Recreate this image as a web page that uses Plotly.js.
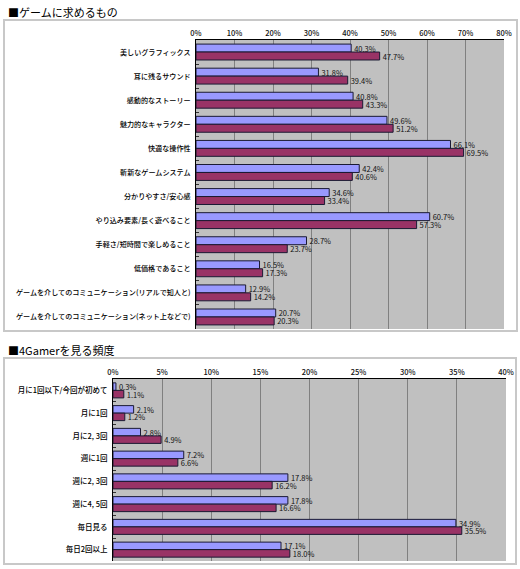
<!DOCTYPE html>
<html>
<head>
<meta charset="utf-8">
<script src="https://cdn.plot.ly/plotly-3.0.1.min.js"></script>
<style>
  html, body { margin: 0; padding: 0; background: #ffffff; }
  #myDiv { width: 520px; height: 569px; }
</style>
</head>
<body>
<div id="myDiv"></div>
<script>
/* Two grouped horizontal bar charts from a 4Gamer reader survey */

// Top chart: what readers want from a game
const wantCategories = [
    '美しいグラフィックス',
    '耳に残るサウンド',
    '感動的なストーリー',
    '魅力的なキャラクター',
    '快適な操作性',
    '斬新なゲームシステム',
    '分かりやすさ/安心感',
    'やり込み要素/長く遊べること',
    '手軽さ/短時間で楽しめること',
    '低価格であること',
    'ゲームを介してのコミュニケーション(リアルで知人と)',
    'ゲームを介してのコミュニケーション(ネット上などで)'
];
const wantSeriesA = [40.3, 31.8, 40.8, 49.6, 66.1, 42.4, 34.6, 60.7, 28.7, 16.5, 12.9, 20.7];
const wantSeriesB = [47.7, 39.4, 43.3, 51.2, 69.5, 40.6, 33.4, 57.3, 23.7, 17.3, 14.2, 20.3];
const wantTicks = [0, 10, 20, 30, 40, 50, 60, 70, 80];

// Bottom chart: how often 4Gamer is visited
const freqCategories = [
    '月に1回以下/今回が初めて',
    '月に1回',
    '月に2, 3回',
    '週に1回',
    '週に2, 3回',
    '週に4, 5回',
    '毎日見る',
    '毎日2回以上'
];
const freqSeriesA = [0.3, 2.1, 2.8, 7.2, 17.8, 17.8, 34.9, 17.1];
const freqSeriesB = [1.1, 1.2, 4.9, 6.6, 16.2, 16.6, 35.5, 18.0];
const freqTicks = [0, 5, 10, 15, 20, 25, 30, 35, 40];

const W = 520;
const H = 569;
const FONT = '"Noto Sans CJK JP", "Noto Sans", sans-serif';

// pixel helpers for paper coordinates
function px(x) { return x / W; }
function py(y) { return 1 - y / H; }

function barTrace(cats, vals, color, xa, ya, name) {
    return {
        type: 'bar',
        orientation: 'h',
        name: name,
        y: cats,
        x: vals,
        xaxis: xa,
        yaxis: ya,
        marker: {color: color, line: {color: '#1a1a33', width: 1}},
        texttemplate: '%{x:.1f}%',
        textposition: 'outside',
        constraintext: 'none',
        cliponaxis: false,
        textfont: {family: FONT, size: 7.5, color: '#111111'},
        hoverinfo: 'y+x'
    };
}

const data = [
    barTrace(wantCategories, wantSeriesA, '#9999ff', 'x', 'y', '今回'),
    barTrace(wantCategories, wantSeriesB, '#993366', 'x', 'y', '前回'),
    barTrace(freqCategories, freqSeriesA, '#9999ff', 'x2', 'y2', '今回'),
    barTrace(freqCategories, freqSeriesB, '#993366', 'x2', 'y2', '前回')
];

function xAxis(ticks, domain, anchor) {
    return {
        domain: domain,
        anchor: anchor,
        side: 'top',
        range: [ticks[0], ticks[ticks.length - 1]],
        tickmode: 'array',
        tickvals: ticks,
        ticktext: ticks.map(t => t + '%'),
        showgrid: true,
        gridcolor: '#808080',
        gridwidth: 1,
        zeroline: false,
        showline: true,
        linecolor: '#000000',
        linewidth: 1,
        ticks: '',
        tickfont: {family: FONT, size: 7.5, color: '#111111', weight: 500},
        fixedrange: true
    };
}

function yAxis(domain, anchor, size) {
    return {
        domain: domain,
        anchor: anchor,
        type: 'category',
        autorange: 'reversed',
        showline: true,
        linecolor: '#000000',
        linewidth: 1,
        ticks: 'inside',
        tickson: 'boundaries',
        ticklen: 3,
        tickcolor: '#333333',
        showgrid: false,
        ticklabelstandoff: 3,
        tickfont: {family: FONT, size: size, color: '#000000', weight: 500},
        fixedrange: true
    };
}

const layout = {
    width: W,
    height: H,
    margin: {l: 0, r: 0, t: 0, b: 0},
    paper_bgcolor: '#ffffff',
    plot_bgcolor: '#c0c0c0',
    barmode: 'group',
    bargap: 0.34,
    bargroupgap: 0,
    showlegend: false,
    xaxis: xAxis(wantTicks, [px(196), px(504)], 'y'),
    yaxis: yAxis([py(329), py(40)], 'x', 7.1),
    xaxis2: xAxis(freqTicks, [px(113), px(506)], 'y2'),
    yaxis2: yAxis([py(561), py(379)], 'x2', 7.5),
    shapes: [
        // light frames around each panel
        {type: 'rect', xref: 'paper', yref: 'paper',
            x0: px(4), x1: px(517), y0: py(331), y1: py(20),
            line: {color: '#c8c8c8', width: 2}},
        {type: 'rect', xref: 'paper', yref: 'paper',
            x0: px(4), x1: px(516), y0: py(564), y1: py(358),
            line: {color: '#c8c8c8', width: 2}}
    ],
    annotations: [
        {text: '■ゲームに求めるもの', xref: 'paper', yref: 'paper',
            x: px(6), y: py(12), xanchor: 'left', yanchor: 'middle',
            showarrow: false, font: {family: FONT, size: 11, color: '#000000'}},
        {text: '■4Gamerを見る頻度', xref: 'paper', yref: 'paper',
            x: px(6), y: py(350), xanchor: 'left', yanchor: 'middle',
            showarrow: false, font: {family: FONT, size: 11, color: '#000000'}}
    ]
};

Plotly.newPlot('myDiv', data, layout, {displayModeBar: false, staticPlot: true});
</script>
</body>
</html>
